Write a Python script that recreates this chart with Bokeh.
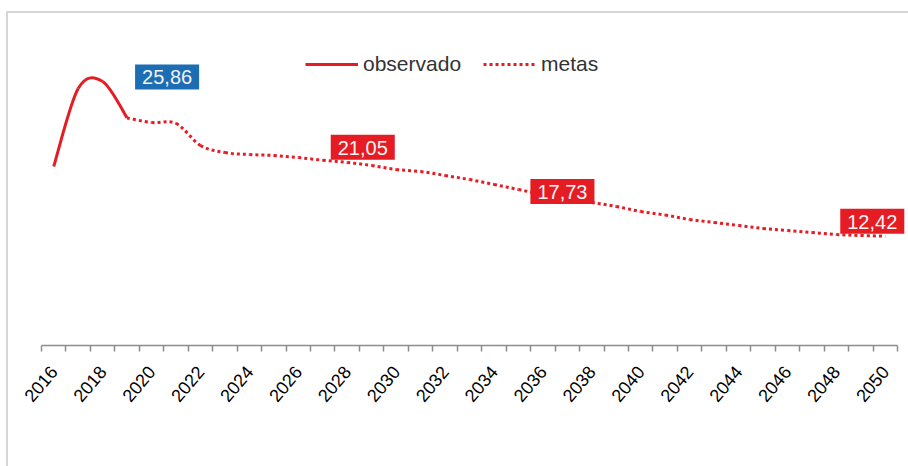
import math
from bokeh.plotting import figure
from bokeh.models import Range1d, FixedTicker, Label, Legend, LegendItem, InlineStyleSheet
from bokeh.embed import file_html
from bokeh.resources import INLINE

# ---- data ----
years_obs = [2016, 2017, 2018, 2019]
observado = [20.34, 29.2, 30.0, 25.86]

years_meta = list(range(2019, 2051))
metas = [25.86, 25.34, 25.23, 22.73, 21.93, 21.70, 21.59, 21.36, 21.05, 20.80,
         20.45, 20.00, 19.77, 19.32, 18.86, 18.30, 17.73, 17.16, 16.70, 16.25,
         15.80, 15.23, 14.83, 14.32, 13.98, 13.64, 13.30, 13.07, 12.84, 12.61,
         12.50, 12.42]

tick_years = list(range(2016, 2051, 2))
tick_labels = [str(y) for y in tick_years]

label_years = [2019, 2027, 2035, 2050]
label_texts = ["25,86", "21,05", "17,73", "12,42"]

RED = "#e51c23"
BLUE = "#1d6db5"
FONT = "Liberation Sans"


def smooth_segments(xs, ys, t=1.0 / 6.0):
    """Catmull-Rom style control points for a smoothed line (Excel-like)."""
    n = len(xs)
    out = dict(x0=[], y0=[], x1=[], y1=[], cx0=[], cy0=[], cx1=[], cy1=[])
    for i in range(n - 1):
        xp, yp = (xs[i - 1], ys[i - 1]) if i > 0 else (xs[i], ys[i])
        xn, yn = (xs[i + 2], ys[i + 2]) if i + 2 < n else (xs[i + 1], ys[i + 1])
        out["x0"].append(xs[i]); out["y0"].append(ys[i])
        out["x1"].append(xs[i + 1]); out["y1"].append(ys[i + 1])
        out["cx0"].append(xs[i] + (xs[i + 1] - xp) * t)
        out["cy0"].append(ys[i] + (ys[i + 1] - yp) * t)
        out["cx1"].append(xs[i + 1] - (xn - xs[i]) * t)
        out["cy1"].append(ys[i + 1] - (yn - ys[i]) * t)
    return out


border_css = InlineStyleSheet(css="""
:host { position: relative; }
:host::after {
  content: ""; position: absolute; left: 6px; top: 11px; right: -10px; bottom: -10px;
  border-left: 2px solid #d6d6d6; border-top: 2px solid #d6d6d6;
  pointer-events: none;
}
""")

X0, X1 = 2015.5, 2050.5
px_per_year = 856.0 / (X1 - X0)

p = figure(width=908, height=466, output_backend="svg", toolbar_location=None,
           x_range=Range1d(X0, X1 + 8.0 / px_per_year), y_range=Range1d(0, 35),
           min_border_left=41, min_border_right=3, min_border_top=37,
           min_border_bottom=121, stylesheets=[border_css])
p.outline_line_color = None
p.grid.visible = False
p.yaxis.visible = False
p.background_fill_color = "white"
p.border_fill_color = "white"

xa = p.xaxis[0]
xa.bounds = (X0, X1)
xa.ticker = FixedTicker(ticks=tick_years,
                        minor_ticks=[y - 0.5 for y in range(2016, 2052)])
xa.major_label_overrides = {y: s for y, s in zip(tick_years, tick_labels)}
xa.major_tick_out = 0
xa.major_tick_in = 0
xa.minor_tick_out = 6
xa.minor_tick_in = 0
xa.minor_tick_line_color = "#8c8c8c"
xa.axis_line_color = "#8c8c8c"
xa.axis_line_width = 1.5
xa.minor_tick_line_width = 1.5
xa.major_label_orientation = 0.87
xa.major_label_text_font = FONT
xa.major_label_text_font_size = "18px"
xa.major_label_text_color = "#000000"
xa.major_label_standoff = 17

so = smooth_segments(years_obs, observado)
r_obs = p.bezier(x0=so["x0"], y0=so["y0"], x1=so["x1"], y1=so["y1"],
                 cx0=so["cx0"], cy0=so["cy0"], cx1=so["cx1"], cy1=so["cy1"],
                 line_color=RED, line_width=3)
sm = smooth_segments(years_meta, metas)
r_meta = p.bezier(x0=sm["x0"], y0=sm["y0"], x1=sm["x1"], y1=sm["y1"],
                  cx0=sm["cx0"], cy0=sm["cy0"], cx1=sm["cx1"], cy1=sm["cy1"],
                  line_color=RED, line_width=3, line_dash="3 3")

legend = Legend(items=[LegendItem(label="observado", renderers=[r_obs], index=0),
                       LegendItem(label="metas", renderers=[r_meta], index=0)],
                orientation="horizontal", location=(264, 269),
                padding=0, margin=0, spacing=22, glyph_width=53,
                glyph_height=20, label_height=20, label_standoff=5,
                label_text_font=FONT, label_text_font_size="21px",
                label_text_color="#333333", border_line_color=None,
                background_fill_alpha=0)
p.add_layout(legend)

all_years = years_obs + years_meta[1:]
all_vals = observado + metas[1:]
offsets = {2019: (40, 41), 2027: (40, 13), 2035: (44, -2), 2050: (-13, 15)}
for yr, txt in zip(label_years, label_texts):
    v = all_vals[all_years.index(yr)]
    dx, dy = offsets[yr]
    p.add_layout(Label(x=yr, y=v, text=txt, x_offset=dx, y_offset=dy,
                       text_align="center", text_baseline="middle",
                       text_font=FONT, text_font_size="20px",
                       text_color="#f4f4f4",
                       background_fill_color=BLUE if yr == 2019 else RED,
                       padding=dict(left=7, right=7, top=6, bottom=5)))

open("out.html", "w").write(file_html(p, INLINE))
